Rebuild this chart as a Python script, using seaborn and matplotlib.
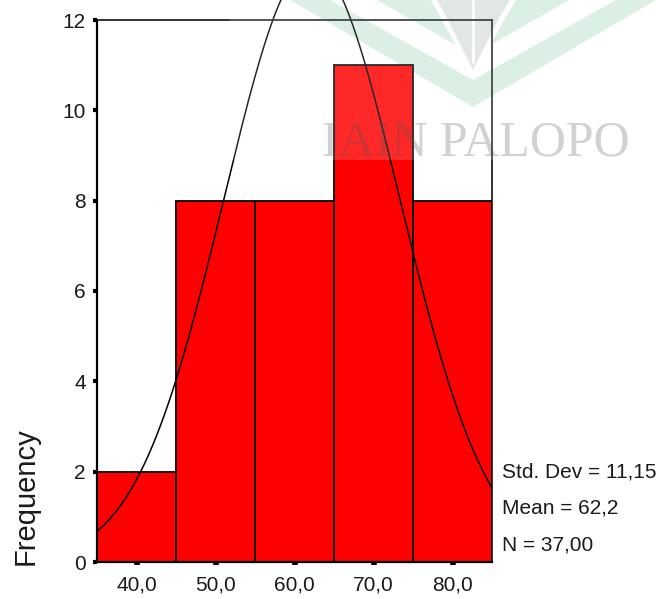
import numpy as np
import pandas as pd
import seaborn as sns
import matplotlib
matplotlib.use("Agg")
import matplotlib.pyplot as plt
from matplotlib.patches import Polygon, Rectangle

# ---- data ----
bin_edges = [35, 45, 55, 65, 75, 85]
bin_centers = [40, 50, 60, 70, 80]
counts = [2, 8, 8, 11, 8]
x_ticks = [40, 50, 60, 70, 80]
x_tick_labels = ["40,0", "50,0", "60,0", "70,0", "80,0"]
y_ticks = [0, 2, 4, 6, 8, 10, 12]
std_dev = 11.15
mean = 62.2
n_total = 37
stats_lines = ["Std. Dev = 11,15", "Mean = 62,2", "N = 37,00"]
watermark_text = "IAIN PALOPO"

sns.set_style("white")
plt.rcParams["font.family"] = ["Liberation Sans", "DejaVu Sans"]

W, H = 664, 599
fig = plt.figure(figsize=(W / 100, H / 100), dpi=100)
fig.patch.set_facecolor("white")
ax = fig.add_axes([97 / W, 37 / H, 395 / W, 542 / H], zorder=2)
ax.set_facecolor("none")

df = pd.DataFrame({"value": bin_centers, "count": counts})
sns.histplot(data=df, x="value", weights="count", bins=bin_edges, ax=ax,
             color="#ff0000", alpha=1, edgecolor="black", linewidth=1.3)

# normal curve from displayed statistics
bw = bin_edges[1] - bin_edges[0]
xs = np.linspace(bin_edges[0], bin_edges[-1], 300)
ys = n_total * bw / (std_dev * np.sqrt(2 * np.pi)) * np.exp(-0.5 * ((xs - mean) / std_dev) ** 2)
sns.lineplot(x=xs, y=ys, ax=ax, color="black", linewidth=1.1, clip_on=False)

ax.set_xlim(bin_edges[0], bin_edges[-1])
ax.set_ylim(0, 12)
ax.set_xticks(x_ticks)
ax.set_xticklabels(x_tick_labels, fontsize=15, color="#1a1a1a")
ax.set_yticks(y_ticks)
ax.set_yticklabels([str(v) for v in y_ticks], fontsize=15, color="#1a1a1a")
ax.tick_params(axis="y", left=True, direction="out", length=3, width=3, pad=5, color="black")
ax.tick_params(axis="x", bottom=True, direction="out", length=2.5, width=4, pad=7, color="black")
ax.set_xlabel("")
ax.set_ylabel("Frequency", fontsize=21, color="#1a1a1a")
ax.yaxis.set_label_coords(-0.145, 0.122)

for side in ["left", "bottom"]:
    ax.spines[side].set_linewidth(1.6)
    ax.spines[side].set_color("black")
for side in ["top", "right"]:
    ax.spines[side].set_linewidth(1.2)
    ax.spines[side].set_color("#111111")
    ax.spines[side].set_visible(True)

# stats text
for i, s in enumerate(stats_lines):
    yc = [472, 508, 545][i]
    fig.text(502 / W, 1 - yc / H, s, fontsize=15, color="#1a1a1a", ha="left", va="center")

# ---- watermark (decoration) ----
def P(pts):
    return [(x / W, 1 - y / H) for x, y in pts]

lower = [(290, 0), (473, 107), (656, 0), (616, 0), (473, 80), (330, 0)]
upper = [(377, 0), (473, 55), (569, 0), (516, 0), (473, 25), (430, 0)]
for pts in (lower, upper):
    fig.add_artist(Polygon(P(pts), closed=True, transform=fig.transFigure,
                           facecolor="#d6ede1", edgecolor="none", zorder=0.1))
fig.add_artist(Polygon(P([(431, 0), (442, 20), (473, 77), (504, 20), (516, 0)]), closed=True,
                       transform=fig.transFigure, facecolor="white", edgecolor="none", zorder=0.2))
shield = [(437, 0), (447, 18), (473, 70), (499, 18), (510, 0)]
fig.add_artist(Polygon(P(shield), closed=True, transform=fig.transFigure,
                       facecolor="#dce4e0", edgecolor="none", zorder=0.3))
fig.add_artist(plt.Line2D([473 / W, 473 / W], [1, 1 - 62 / H], transform=fig.transFigure,
                          color="white", linewidth=2, zorder=0.4))

fig.add_artist(Rectangle((230 / W, 1 - 160 / H), (W - 230) / W, 160 / H,
                         transform=fig.transFigure, facecolor="white", alpha=0.16,
                         edgecolor="none", zorder=10))
fig.text(476 / W, 1 - 143 / H, watermark_text, fontsize=36, family="Liberation Serif",
         color=(0.31, 0.31, 0.31), alpha=0.26, ha="center", va="center", zorder=15)

fig.savefig("out.png", dpi=100)
